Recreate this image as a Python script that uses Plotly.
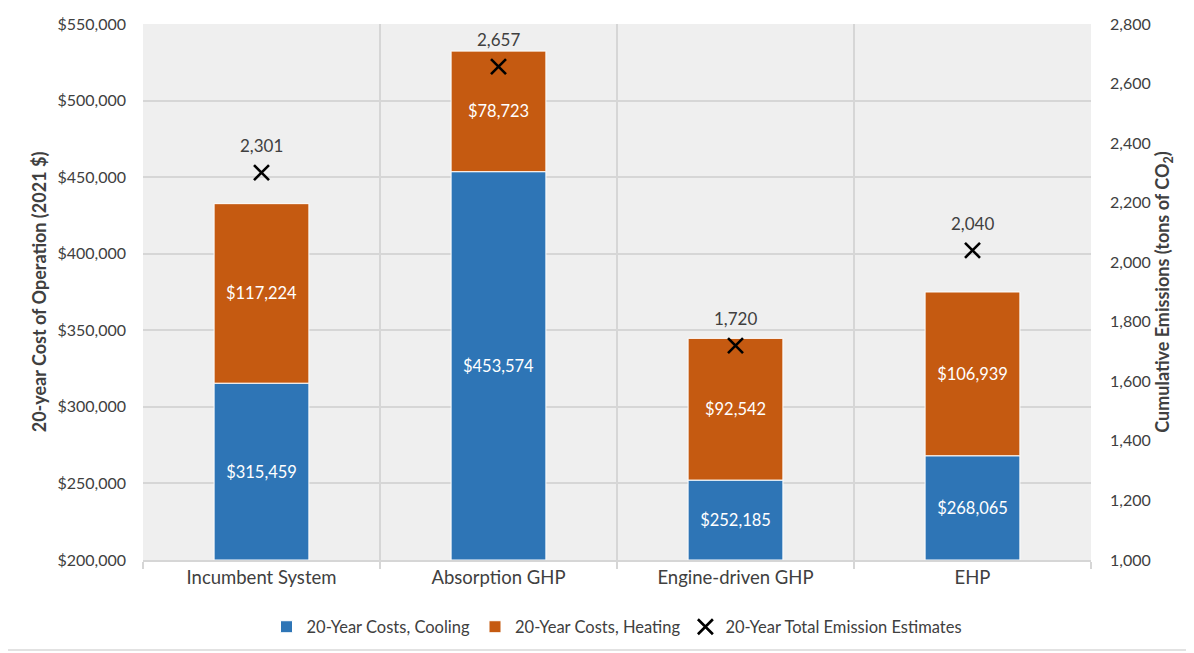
import plotly.graph_objects as go

# values
systems = ["Incumbent System", "Absorption GHP", "Engine-driven GHP", "EHP"]
cooling = [315459, 453574, 252185, 268065]
heating = [117224, 78723, 92542, 106939]
emissions = [2301, 2657, 1720, 2040]

COST_MIN, COST_MAX = 200000, 550000
EMIS_MIN, EMIS_MAX = 1000, 2800

FONT = "Lato"
GREY = "#404040"
GRID = "#D6D6D6"


def main():
    fig = go.Figure()

    # excel draws the bars up from the axis floor, so start them there
    # (keeps the value labels centred in the visible part)
    fig.add_trace(go.Bar(
        x=systems, y=[c - COST_MIN for c in cooling], base=[COST_MIN] * len(cooling),
        name="20-Year Costs, Cooling",
        marker=dict(color="#2E75B6", line=dict(color="white", width=1)),
        text=[f"${v:,}" for v in cooling], textposition="inside",
        insidetextanchor="middle", textfont=dict(color="white", size=16.5, family=FONT),
        width=0.4, hovertext=[f"${v:,}" for v in cooling], hoverinfo="text+x",
    ))
    fig.add_trace(go.Bar(
        x=systems, y=heating, base=cooling, name="20-Year Costs, Heating",
        marker=dict(color="#C55A11", line=dict(color="white", width=1)),
        text=[f"${v:,}" for v in heating], textposition="inside",
        insidetextanchor="middle", textfont=dict(color="white", size=16.5, family=FONT),
        width=0.4, hovertext=[f"${v:,}" for v in heating], hoverinfo="text+x",
    ))
    fig.add_trace(go.Scatter(
        x=systems, y=emissions, yaxis="y2", name="20-Year Total Emission Estimates",
        mode="markers",
        marker=dict(symbol="x-thin", size=15, color="black",
                    line=dict(color="black", width=2.6)),
    ))

    # emission value labels, a bit above the crosses
    for s, e in zip(systems, emissions):
        fig.add_annotation(x=s, y=e, xref="x", yref="y2", text=f"{e:,}",
                           showarrow=False, yshift=27,
                           font=dict(color=GREY, size=17, family=FONT))

    # the page body adds 8px around the div, so size the figure 8px smaller
    fig.update_layout(
        width=1186, height=645,
        barmode="overlay",
        paper_bgcolor="white", plot_bgcolor="#EFEFEF",
        font=dict(family=FONT, color=GREY, size=16),
        margin=dict(l=135, r=103, t=16, b=93, autoexpand=False),
        showlegend=True,
        legend=dict(orientation="h", x=0.5, xanchor="center", y=-0.125, yanchor="middle",
                    font=dict(size=16.5, color=GREY), traceorder="normal",
                    itemwidth=30, bgcolor="rgba(0,0,0,0)"),
        xaxis=dict(
            tickson="boundaries", showgrid=True, gridcolor=GRID, gridwidth=2,
            ticks="outside", ticklen=7, tickcolor=GRID, tickwidth=2,
            showline=True, linecolor=GRID, linewidth=2,
            tickfont=dict(size=18.5, color=GREY), automargin=False,
        ),
        yaxis=dict(
            range=[COST_MIN, COST_MAX], dtick=50000, tickformat="$,",
            showgrid=True, gridcolor=GRID, gridwidth=2, zeroline=False,
            ticklabelstandoff=16, automargin=False,
            title=dict(text="<b>20-year Cost of Operation (2021 $)</b>",
                       font=dict(size=18, color=GREY), standoff=6),
            tickfont=dict(size=16, color=GREY),
        ),
        yaxis2=dict(
            range=[EMIS_MIN, EMIS_MAX], dtick=200, tickformat=",", overlaying="y",
            side="right", showgrid=False, zeroline=False,
            ticklabelstandoff=18, automargin=False,
            title=dict(text="<b>Cumulative Emissions (tons of CO<sub>2</sub>)</b>",
                       font=dict(size=18, color=GREY), standoff=6),
            tickfont=dict(size=16, color=GREY),
        ),
        shapes=[dict(type="rect", xref="paper", yref="paper",
                     x0=-0.146, x1=1.1055, y0=-0.168, y1=1.039,
                     line=dict(color="#D9D9D9", width=1.5), layer="below")],
    )

    fig.write_html("out.html")


if __name__ == "__main__":
    main()
